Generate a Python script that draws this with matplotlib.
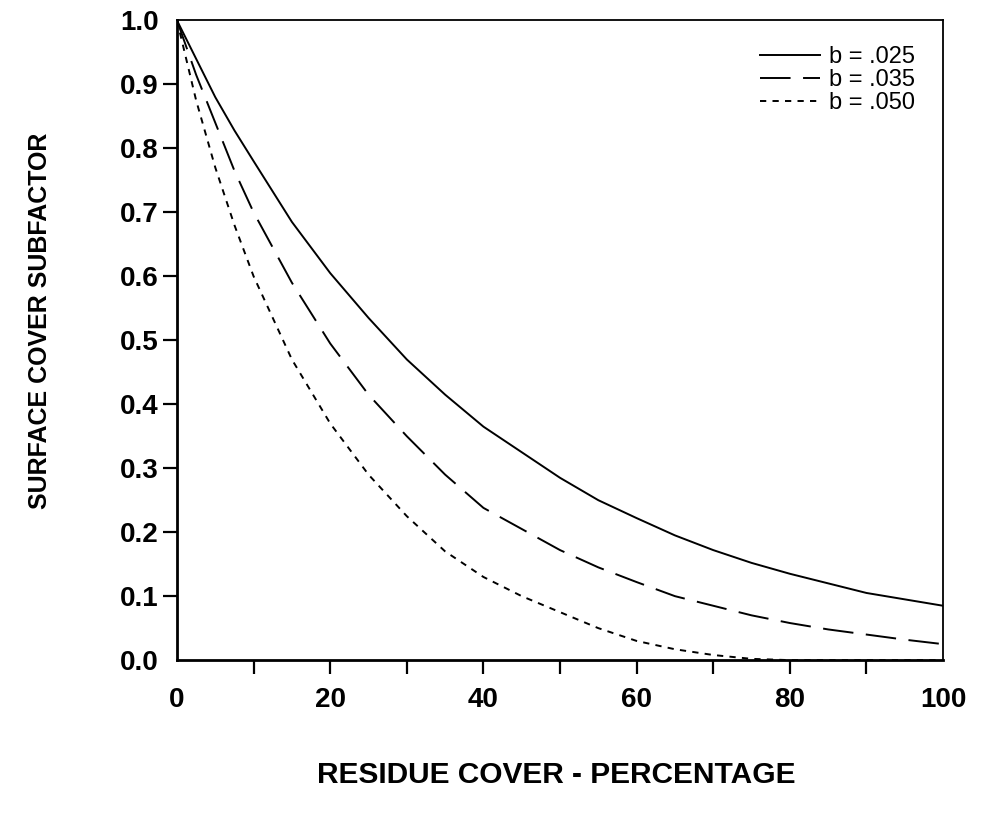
import matplotlib

matplotlib.use("Agg")
import matplotlib.pyplot as plt

plt.rcParams["font.family"] = ["Liberation Sans", "DejaVu Sans"]
plt.rcParams["lines.scale_dashes"] = False

# Residue cover (%) and surface cover subfactor
cover = [0, 2.5, 5, 7.5, 10, 15, 20, 25, 30, 35, 40, 45, 50,
         55, 60, 65, 70, 75, 80, 85, 90, 95, 100]
sf_025 = [1.0, 0.94, 0.88, 0.828, 0.78, 0.685, 0.605, 0.535, 0.47, 0.415, 0.365, 0.325, 0.285,
          0.25, 0.222, 0.195, 0.172, 0.152, 0.135, 0.12, 0.105, 0.095, 0.085]
sf_035 = [1.0, 0.915, 0.84, 0.765, 0.70, 0.59, 0.495, 0.415, 0.35, 0.29, 0.238, 0.205, 0.172,
          0.145, 0.122, 0.10, 0.085, 0.07, 0.058, 0.048, 0.04, 0.032, 0.025]
sf_050 = [1.0, 0.875, 0.77, 0.68, 0.60, 0.47, 0.37, 0.29, 0.225, 0.17, 0.13, 0.10, 0.075,
          0.05, 0.03, 0.017, 0.008, 0.002, 0.0, 0.0, 0.0, 0.0, 0.0]
labels = ["b = .025", "b = .035", "b = .050"]

x_ticks = list(range(0, 101, 10))
x_ticklabels = [str(v) if v % 20 == 0 else "" for v in x_ticks]
y_ticks = [i / 10 for i in range(11)]
y_ticklabels = [f"{v:.1f}" for v in y_ticks]

fig = plt.figure(figsize=(9.86, 8.17), dpi=100)
ax = fig.add_axes([0.1795, 0.192, 0.777, 0.783])

ax.plot(cover, sf_025, color="black", lw=1.4, label=labels[0])
ax.plot(cover, sf_035, color="black", lw=1.4, dashes=(22, 9), label=labels[1])
ax.plot(cover, sf_050, color="black", lw=1.4, dashes=(4.5, 4.5), label=labels[2])

ax.set_xlim(0, 100)
ax.set_ylim(0, 1.0)
ax.set_xticks(x_ticks)
ax.set_xticklabels(x_ticklabels)
ax.set_yticks(y_ticks)
ax.set_yticklabels(y_ticklabels)
ax.tick_params(direction="out", length=10, width=1.6, labelsize=20)
ax.tick_params(axis="x", pad=9)
ax.tick_params(axis="y", pad=3)
for lab in ax.get_xticklabels() + ax.get_yticklabels():
    lab.set_fontweight("bold")
# no tick marks at the corners
for t in (ax.xaxis.get_major_ticks()[0], ax.xaxis.get_major_ticks()[-1],
          ax.yaxis.get_major_ticks()[0], ax.yaxis.get_major_ticks()[-1]):
    t.tick1line.set_visible(False)

for side in ("left", "bottom"):
    ax.spines[side].set_linewidth(2.0)
for side in ("top", "right"):
    ax.spines[side].set_linewidth(1.3)

ax.set_xlabel("RESIDUE COVER - PERCENTAGE", fontsize=21.5, fontweight="bold")
ax.set_ylabel("SURFACE COVER SUBFACTOR", fontsize=18, fontweight="bold")
ax.xaxis.set_label_coords(0.495, -0.158)
ax.yaxis.set_label_coords(-0.163, 0.53)

ax.legend(loc="upper right", bbox_to_anchor=(0.963, 0.96), frameon=False,
          fontsize=17, handlelength=2.55, handletextpad=0.35, labelspacing=0.05,
          borderaxespad=0, borderpad=0)

fig.savefig("out.png", dpi=100)
